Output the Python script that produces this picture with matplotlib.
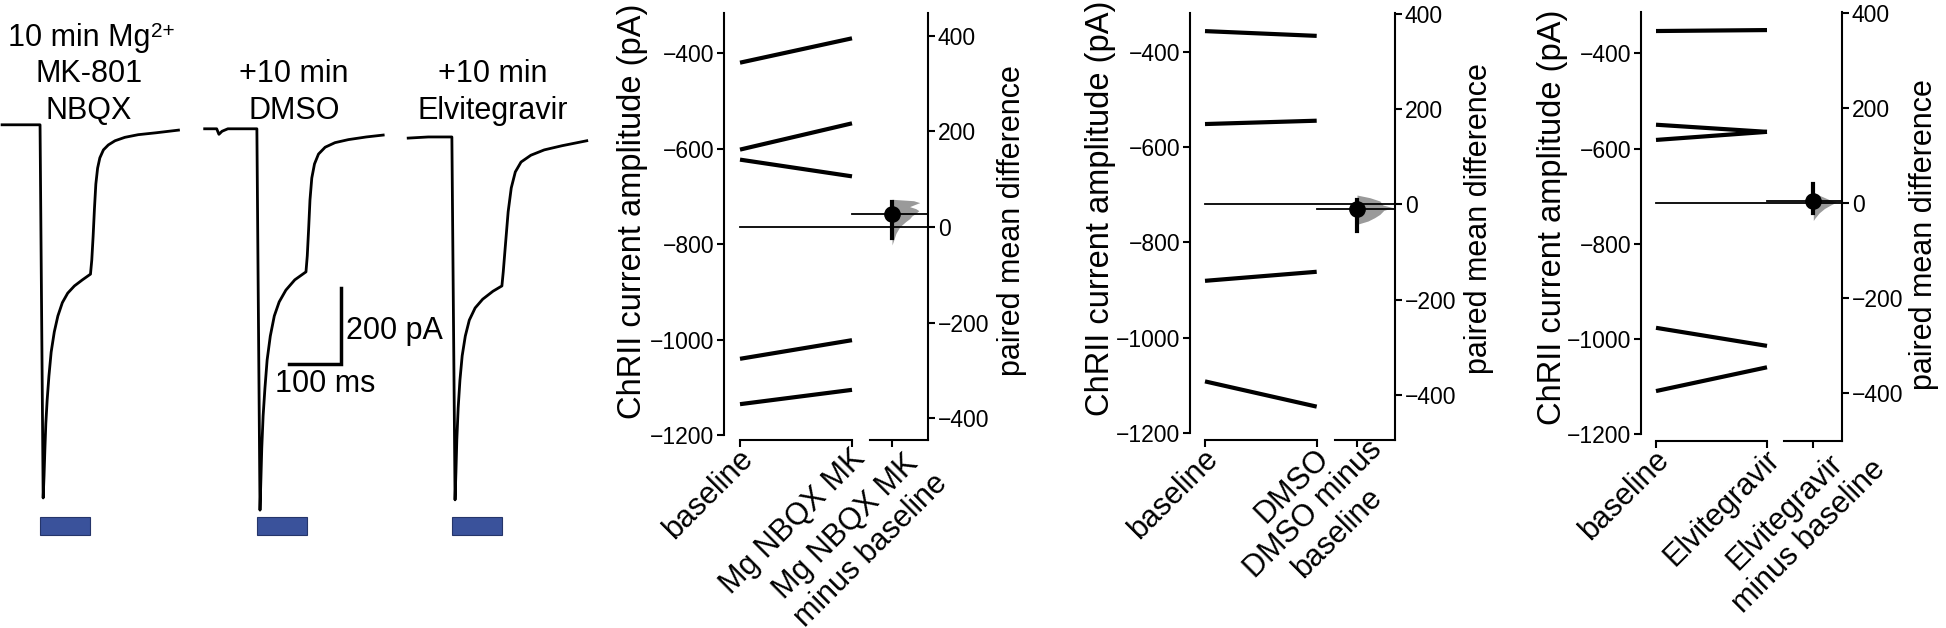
import numpy as np
import matplotlib.pyplot as plt
from matplotlib.patches import Rectangle
from matplotlib.transforms import ScaledTranslation

plt.rcParams['font.family'] = ['Liberation Sans', 'DejaVu Sans']

# example traces: time from light onset (ms), current (pA)
tr1_t = [-73, 0, 6.0, 7.7, 9.4, 11.1, 13.7, 17.1, 21.4, 27.4, 34.3, 42.9, 53.2, 66.1, 81.5, 97,
         99.5, 102.1, 104.7, 107.3, 110.7, 115, 121.9, 131.3, 144.2, 163.1, 188.8, 223.2, 266.2]
tr1_i = [0, 0, -982, -924, -851, -787, -724, -661, -598, -545, -503, -468, -443, -424, -408, -393,
         -356, -293, -219, -156, -114, -87, -66, -53, -42, -33, -26, -21, -14]
tr2_t = [-100.4, -77.3, -73, -67, -55.8, 0, 6.0, 7.7, 9.4, 12, 15.5, 19.7, 25.8, 33.5, 42.9, 55.8,
         72.9, 94.4, 96.9, 99.6, 102.1, 105.6, 110.8, 118.5, 131.3, 150.2, 176, 210.4, 242.9]
tr2_i = [-10.5, -10.5, -25, -17, -10.5, -10.5, -1014, -935, -851, -766, -693, -619, -556, -503, -466, -435,
         -408, -387, -345, -272, -198, -140, -103, -77, -59, -47, -39, -32, -27]
tr3_t = [-84, -45.4, 0, 6.1, 7.8, 9.5, 12.1, 15.5, 19.8, 25.8, 33.5, 44.7, 59.2, 79, 96.2,
         98.8, 103.1, 108.2, 114.2, 122, 133, 152, 177.7, 212, 259.4]
tr3_i = [-35, -32, -32, -987, -914, -829, -745, -672, -608, -556, -514, -482, -459, -438, -424,
         -387, -314, -229, -166, -124, -98, -80, -66, -55, -42]
pulse_ms = 97
titles = [["10 min Mg", "MK-801", "NBQX"], ["+10 min", "DMSO"], ["+10 min", "Elvitegravir"]]

# paired amplitudes (pA)
mg_names = ['baseline', 'Mg NBQX MK']
mg_base = [-420, -602, -623, -1040, -1135]
mg_drug = [-369, -547, -658, -1001, -1105]
mg_con = 'Mg NBQX MK\nminus baseline'
mg_ci = [-23, 53]
mg_vio_d = [58, 55, 51, 46, 42.6, 38.4, 34.2, 28.6, 23, 17.4, 11.2, 0.7, -13.2, -27, -37.7]
mg_vio_w = [0, 0.49, 0.63, 0.49, 0.40, 0.54, 0.61, 0.54, 0.45, 0.40, 0.31, 0.18, 0.09, 0.04, 0]

dm_names = ['baseline', 'DMSO']
dm_base = [-357, -552, -881, -1092]
dm_drug = [-367, -545, -862, -1145]
dm_con = 'DMSO minus\nbaseline'
dm_ci = [-56, 10]
dm_vio_d = [19.5, 14, 7, -1.5, -7, -12.5, -21, -28, -35, -42]
dm_vio_w = [0, 0.29, 0.52, 0.59, 0.82, 0.61, 0.52, 0.40, 0.25, 0]

el_names = ['baseline', 'Elvitegravir']
el_base = [-353, -550, -582, -977, -1110]
el_drug = [-351, -565, -565, -1015, -1060]
el_con = 'Elvitegravir\nminus baseline'
el_ci = [-21, 39]
el_vio_d = [21, 14, 7, 1.5, -4.8, -11.8, -21, -31.5, -37]
el_vio_w = [0, 0.14, 0.27, 0.39, 0.29, 0.19, 0.10, 0.03, 0]

W, H = 1946, 628
fig = plt.figure(figsize=(W / 100, H / 100), dpi=100)
BIG = 22
SMALL = 16.5


def add_px(l, t, r, b):
    return fig.add_axes([l / W, 1 - b / H, (r - l) / W, (b - t) / H])


def shift(label, dx, dy):
    label.set_transform(label.get_transform() + ScaledTranslation(dx / 100, dy / 100, fig.dpi_scale_trans))


# ---------------- traces ----------------
axt = add_px(0, 0, 600, 628)
axt.set_xlim(0, 600 / 0.52)
axt.set_ylim(-(628 - 124.8) / 0.38, 124.8 / 0.38)
axt.axis('off')
onsets = [77, 494, 869]
for t, i, t0 in zip([tr1_t, tr2_t, tr3_t], [tr1_i, tr2_i, tr3_i], onsets):
    axt.plot(np.array(t) + t0, i, color='black', lw=2.0, solid_joinstyle='round')
    axt.add_patch(Rectangle((t0, -1079.5), pulse_ms, 47.5, fc='#3a529b', ec='#25356a', lw=0.8))

axt.plot([556, 656.7, 656.7], [-629.5, -629.5, -429.5], color='black', lw=2.5, solid_joinstyle='miter')
axt.text(665, -542, '200 pA', fontsize=BIG, ha='left', va='center')
axt.text(625, -682, '100 ms', fontsize=BIG, ha='center', va='center')

title_x = [89, 294, 493]
for k, (tx, lines) in enumerate(zip(title_x, titles)):
    base_y = [46, 82, 119] if len(lines) == 3 else [82, 119]
    for j, (ln, yy) in enumerate(zip(lines, base_y)):
        if k == 0 and j == 0:
            fig.text(150 / W, 1 - yy / H, ln, fontsize=BIG, ha='right', va='baseline')
            fig.text(151 / W, 1 - 22 / H, '2+', fontsize=15, ha='left', va='top')
        else:
            fig.text(tx / W, 1 - yy / H, ln, fontsize=BIG, ha='center', va='baseline')


# ---------------- estimation panels ----------------
def panel(lr, rr, t0, t1, lc, rc, tc, top, bottom, ylim_raw,
          names, base, drug, con_name, ci, vio_d, vio_w, con_off, ylab_l, ylab_r):
    ppu = t1 - t0
    ax = add_px(lr, top, rr, bottom)
    for b, d in zip(base, drug):
        ax.plot([0, 1], [b, d], color='black', lw=3, solid_capstyle='butt')
    ax.set_xlim((lr - t0) / ppu, (rr - t0) / ppu)
    ax.set_ylim(ylim_raw)
    ax.set_yticks([-400, -600, -800, -1000, -1200])
    ax.set_xticks([0, 1])
    ax.set_xticklabels(names, rotation=45, rotation_mode='anchor', ha='right', va='baseline')
    ax.spines[['top', 'right']].set_visible(False)
    ax.spines['left'].set_bounds(-1200, ylim_raw[1])
    ax.spines['bottom'].set_bounds(0, 1)
    ax.tick_params(axis='both', direction='out', length=5, width=1.5, pad=2)
    ax.tick_params(axis='x', labelsize=BIG)
    ax.tick_params(axis='y', labelsize=SMALL)
    for s in ax.spines.values():
        s.set_linewidth(1.5)
    for lab in ax.get_xticklabels():
        shift(lab, 14, -10)

    bmean = np.mean(base)
    diff = np.mean(drug) - bmean
    axc = add_px(lc, top, rc, bottom)
    axc.patch.set_visible(False)
    axc.set_xlim(-0.5, 0.5 * (rc - tc) / (tc - lc))
    axc.set_ylim(ylim_raw[0] - bmean, ylim_raw[1] - bmean)
    axc.fill_betweenx(vio_d, 0, vio_w, color='#9a9a9a', lw=0, zorder=1)
    inv = axc.transData.inverted()
    x0 = inv.transform(ax.transData.transform((0, 0)))[0]
    x1 = inv.transform(ax.transData.transform((1, 0)))[0]
    xr = axc.get_xlim()[1]
    axc.plot([x0, xr], [0, 0], color='black', lw=1.3, clip_on=False, zorder=2)
    axc.plot([x1, xr], [diff, diff], color='black', lw=1.3, clip_on=False, zorder=2)
    axc.plot([0, 0], ci, color='black', lw=3, zorder=3)
    axc.plot([0], [diff], 'o', color='black', ms=11, zorder=4)
    axc.yaxis.tick_right()
    axc.set_yticks([-400, -200, 0, 200, 400])
    axc.set_xticks([0])
    axc.set_xticklabels([con_name], rotation=45, rotation_mode='anchor', ha='right',
                        va='baseline', multialignment='center')
    axc.spines[['top', 'left']].set_visible(False)
    axc.tick_params(axis='both', direction='out', length=5, width=1.5, pad=2)
    axc.tick_params(axis='x', labelsize=BIG)
    axc.tick_params(axis='y', labelsize=SMALL)
    for s in axc.spines.values():
        s.set_linewidth(1.5)
    for lab in axc.get_xticklabels():
        shift(lab, con_off[0], con_off[1])

    fig.text(ylab_l[0] / W, 1 - ylab_l[1] / H, 'ChRII current amplitude (pA)', fontsize=23.5,
             rotation=90, ha='center', va='center')
    fig.text(ylab_r[0] / W, 1 - ylab_r[1] / H, 'paired mean difference', fontsize=BIG,
             rotation=90, ha='center', va='center')


panel(724, 860, 740, 852, 870, 928, 892, 13, 440, (-1210, -316),
      mg_names, mg_base, mg_drug, mg_con, mg_ci, mg_vio_d, mg_vio_w, (53, -32), (633, 211), (1012, 221))
panel(1190, 1325, 1205, 1316.7, 1335, 1395, 1357, 13, 440, (-1215, -319),
      dm_names, dm_base, dm_drug, dm_con, dm_ci, dm_vio_d, dm_vio_w, (47, -22), (1100, 208), (1479, 219))
panel(1641, 1775, 1656, 1767, 1784, 1842, 1813.3, 12, 441, (-1215, -313),
      el_names, el_base, el_drug, el_con, el_ci, el_vio_d, el_vio_w, (70, -17), (1552, 217), (1924, 235))

fig.savefig('out.png', dpi=100)
